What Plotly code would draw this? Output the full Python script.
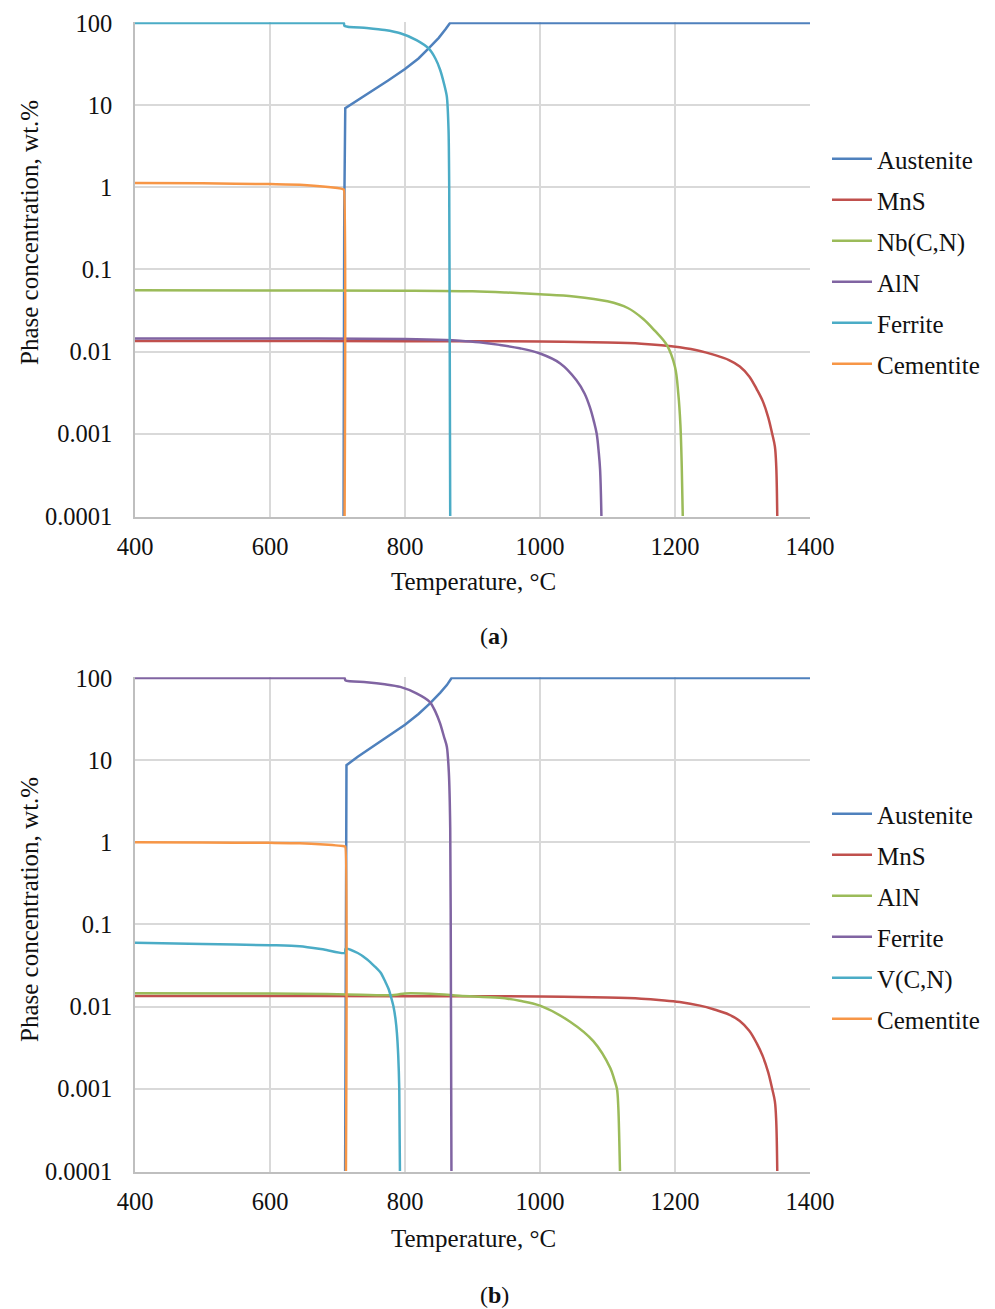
import plotly.graph_objects as go

# ---------------- Panel (a) data: temperature (°C) and phase content (wt.%) ----------------
t_austenite_a = [709, 710, 711.5, 730, 750, 775, 800, 820, 835, 850, 860, 866.7, 1400]
w_austenite_a = [1e-4, 0.5, 9.2, 11.5, 14.8, 20, 27.5, 37, 49, 66, 84, 100, 100]

t_mns_a = [400, 600, 800, 900, 1000, 1100, 1150, 1180, 1207, 1237, 1257, 1280, 1296, 1310,
           1321, 1330, 1338, 1344, 1348, 1350, 1351.5]
w_mns_a = [0.0135, 0.0135, 0.0134, 0.0134, 0.0133, 0.0129, 0.0125, 0.0120, 0.0113, 0.0102,
           0.0092, 0.0079, 0.0066, 0.005, 0.0035, 0.0025, 0.0016, 0.001, 0.0007, 0.0004, 1e-4]

t_nbcn_a = [400, 600, 800, 900, 950, 1000, 1050, 1100, 1130, 1153, 1170, 1188, 1200,
            1205, 1208, 1210, 1211.5]
w_nbcn_a = [0.0558, 0.0556, 0.0553, 0.0543, 0.0525, 0.050, 0.047, 0.041, 0.034, 0.025,
            0.018, 0.012, 0.0065, 0.003, 0.0013, 0.0004, 1e-4]

t_aln_a = [400, 600, 800, 860, 881, 910, 940, 970, 1000, 1030, 1054, 1066, 1074, 1080,
           1084, 1087, 1089, 1091]
w_aln_a = [0.0145, 0.0145, 0.0143, 0.0139, 0.0136, 0.013, 0.0121, 0.0110, 0.0095, 0.0072,
           0.0045, 0.0031, 0.0021, 0.0014, 0.001, 0.0006, 0.00037, 1e-4]

t_ferrite_a = [400, 709, 709.5, 710.5, 743, 770, 793, 817, 835, 845, 852, 858, 862, 864.5,
               865.5, 866.3, 867]
w_ferrite_a = [100, 100, 100, 92, 87, 82, 75, 62, 49, 37, 27, 18, 12.7, 5, 1, 0.01, 1e-4]

t_cementite_a = [400, 500, 600, 650, 700, 709, 709.5, 710.5]
w_cementite_a = [1.13, 1.12, 1.095, 1.07, 0.98, 0.945, 0.94, 1e-4]

# ---------------- Panel (b) data ----------------
t_austenite_b = [711.3, 712, 713.3, 730, 750, 775, 800, 820, 837, 852, 862, 869, 1400]
w_austenite_b = [1e-4, 0.5, 8.7, 11, 14.3, 19.5, 27, 36.5, 49, 66, 82, 100, 100]

t_mns_b = [400, 600, 800, 900, 1000, 1100, 1150, 1180, 1207, 1237, 1257, 1280, 1296, 1310,
           1321, 1330, 1338, 1344, 1348, 1350, 1351.5]
w_mns_b = [0.0135, 0.0135, 0.0134, 0.0134, 0.0133, 0.0129, 0.0125, 0.0120, 0.0114, 0.0103,
           0.0093, 0.0080, 0.0067, 0.0051, 0.0036, 0.0025, 0.0016, 0.001, 0.0007, 0.0004, 1e-4]

t_aln_b = [400, 600, 700, 780, 790, 800, 850, 881, 940, 970, 1000, 1044, 1079, 1104,
           1110, 1114, 1116, 1117.5, 1118.5]
w_aln_b = [0.0146, 0.0145, 0.0142, 0.0138, 0.0141, 0.0145, 0.0142, 0.0136, 0.0128, 0.0118,
           0.0103, 0.0066, 0.0038, 0.0018, 0.0013, 0.001, 0.0006, 0.00023, 1e-4]

t_ferrite_b = [400, 710, 710.5, 712, 743, 770, 793, 817, 837, 845, 852, 858, 862, 865, 867,
               868, 868.8]
w_ferrite_b = [100, 100, 100, 93, 89, 84, 78, 65, 51, 39, 28, 19, 14.6, 7, 1.5, 0.02, 1e-4]

t_vcn_b = [400, 500, 600, 644, 680, 711, 712, 730, 744, 755, 764, 771, 776, 780, 783,
           786, 788, 790, 791.5, 792.5]
w_vcn_b = [0.060, 0.058, 0.056, 0.0545, 0.0495, 0.045, 0.0506, 0.045, 0.0376, 0.031,
           0.0259, 0.020, 0.0162, 0.0125, 0.010, 0.007, 0.0048, 0.0025, 0.001, 1e-4]

t_cementite_b = [400, 500, 600, 644, 680, 711, 711.5, 712.5]
w_cementite_b = [1.0, 0.995, 0.985, 0.975, 0.94, 0.893, 0.89, 1e-4]

# Tick labels
y_tickvals = [1e-4, 1e-3, 1e-2, 1e-1, 1, 10, 100]
y_ticktext = ["0.0001", "0.001", "0.01", "0.1", "1", "10", "100"]
x_tickvals = [400, 600, 800, 1000, 1200, 1400]

# Office-style series colours
BLUE, RED, GREEN, PURPLE, AQUA, ORANGE = "#4F81BD", "#C0504D", "#9BBB59", "#8064A2", "#4BACC6", "#F79646"

FONT = "Liberation Serif"
INK = "#111111"
W, H = 995, 1309

# (name, temperatures, values, colour, spline smoothing or None for straight segments)
series_a = [
    ("Austenite", t_austenite_a, w_austenite_a, BLUE, None),
    ("MnS", t_mns_a, w_mns_a, RED, 1.0),
    ("Nb(C,N)", t_nbcn_a, w_nbcn_a, GREEN, 1.0),
    ("AlN", t_aln_a, w_aln_a, PURPLE, 1.0),
    ("Ferrite", t_ferrite_a, w_ferrite_a, AQUA, 0.7),
    ("Cementite", t_cementite_a, w_cementite_a, ORANGE, 0.7),
]
series_b = [
    ("Austenite", t_austenite_b, w_austenite_b, BLUE, None),
    ("MnS", t_mns_b, w_mns_b, RED, 1.0),
    ("AlN", t_aln_b, w_aln_b, GREEN, 1.0),
    ("Ferrite", t_ferrite_b, w_ferrite_b, PURPLE, 0.7),
    ("V(C,N)", t_vcn_b, w_vcn_b, AQUA, 0.7),
    ("Cementite", t_cementite_b, w_cementite_b, ORANGE, 0.7),
]

fig = go.Figure()

for panel, series, xa, ya, leg in (("a", series_a, "x", "y", "legend"),
                                   ("b", series_b, "x2", "y2", "legend2")):
    for i, (name, t, w, col, smooth) in enumerate(series):
        line = dict(color=col, width=2.5)
        if smooth is not None:
            line.update(shape="spline", smoothing=smooth)
        fig.add_trace(go.Scatter(
            x=t, y=w, name=name, mode="lines", line=line,
            xaxis=xa, yaxis=ya, legend=leg,
            legendgroup=f"{panel}{i}", legendrank=i,
            hoverinfo="skip",
        ))

# Log axis padded by a hair so lines lying on 100 wt.% are not clipped
PAD = 0.01
DEC = 493 / 6            # pixels per decade
pad_px = PAD * DEC

x_dom = [135 / W, 810 / W]
ya_dom = [1 - (516 + pad_px) / H, 1 - (23 - pad_px) / H]
yb_dom = [1 - (1171 + pad_px) / H, 1 - (678 - pad_px) / H]

grid = "#D9D9D9"
axis_line = "#BFBFBF"
tick_font = dict(family=FONT, size=24.5, color=INK)


def xaxis_cfg(anchor):
    return dict(
        domain=x_dom, anchor=anchor, range=[400, 1400], tickvals=x_tickvals,
        showgrid=True, gridcolor=grid, gridwidth=1.5, zeroline=False,
        showline=True, linecolor=axis_line, linewidth=1.5,
        ticks="", tickfont=tick_font, ticklabelstandoff=7,
        automargin=False, fixedrange=True,
    )


def yaxis_cfg(anchor, dom):
    return dict(
        domain=dom, anchor=anchor, type="log", range=[-4 - PAD, 2 + PAD],
        tickvals=y_tickvals, ticktext=y_ticktext,
        showgrid=True, gridcolor=grid, gridwidth=1.5, zeroline=False,
        showline=True, linecolor=axis_line, linewidth=1.5,
        ticks="", tickfont=tick_font, ticklabelstandoff=16,
        automargin=False, fixedrange=True,
    )


legend_common = dict(
    font=dict(family=FONT, size=25, color=INK),
    bgcolor="rgba(0,0,0,0)", borderwidth=0,
    xanchor="left", yanchor="top", itemwidth=40,
    tracegroupgap=5.5, traceorder="grouped",
)

fig.update_layout(
    width=W, height=H,
    margin=dict(l=0, r=0, t=0, b=0, autoexpand=False),
    paper_bgcolor="white", plot_bgcolor="white",
    font=dict(family=FONT, color=INK),
    xaxis=xaxis_cfg("y"),
    yaxis=yaxis_cfg("x", ya_dom),
    xaxis2=xaxis_cfg("y2"),
    yaxis2=yaxis_cfg("x2", yb_dom),
    legend=dict(x=827 / W, y=1 - 136 / H, **legend_common),
    legend2=dict(x=827 / W, y=1 - 791 / H, **legend_common),
    showlegend=True,
)

title_font = dict(family=FONT, size=25, color=INK)


def note(text, xc, yc, **kw):
    fig.add_annotation(text=text, x=xc / W, y=1 - yc / H, xref="paper", yref="paper",
                       xanchor="center", yanchor="middle", showarrow=False, **kw)


for yc in (233, 910):
    note("Phase concentration, wt.%", 29, yc, textangle=-90, font=title_font)
for yc in (581, 1238):
    note("Temperature, °C", 473, yc, font=title_font)
note("(<b>a</b>)", 494, 636, font=dict(family=FONT, size=24, color=INK))
note("(<b>b</b>)", 494, 1295, font=dict(family=FONT, size=24, color=INK))

fig.write_html("out.html", config=dict(displayModeBar=False))
